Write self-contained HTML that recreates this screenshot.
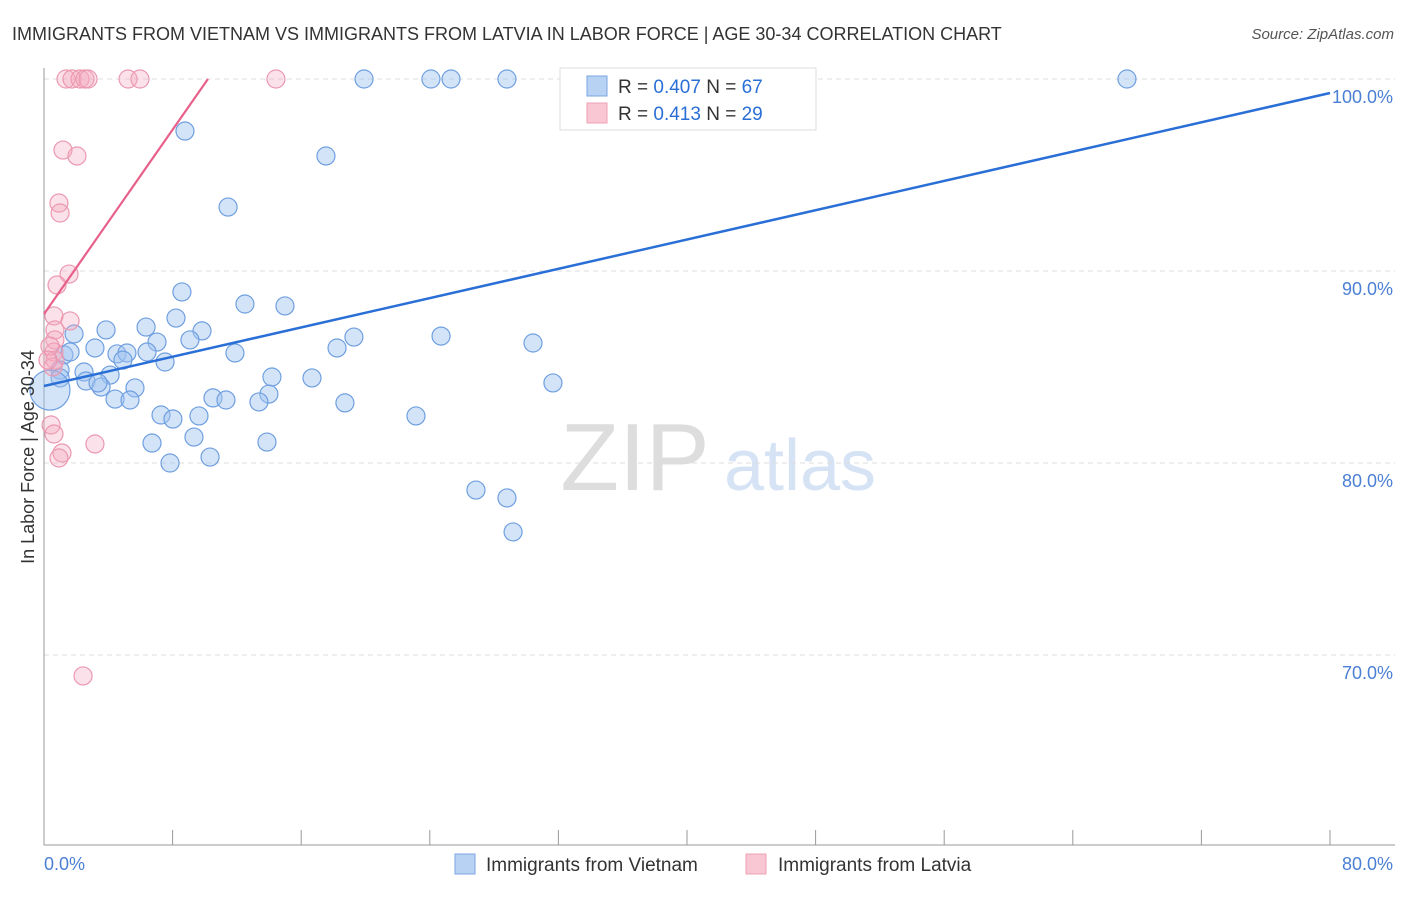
<!DOCTYPE html>
<html><head><meta charset="utf-8"><style>
body{margin:0;background:#fff;font-family:"Liberation Sans",sans-serif}
svg text{font-family:"Liberation Sans",sans-serif}
</style></head><body>
<svg id="chart" width="1406" height="892" xmlns="http://www.w3.org/2000/svg">
<text x="12" y="40" font-size="18" fill="#333">IMMIGRANTS FROM VIETNAM VS IMMIGRANTS FROM LATVIA IN LABOR FORCE | AGE 30-34 CORRELATION CHART</text>
<text x="1394" y="39" font-size="15" fill="#555" text-anchor="end" font-style="italic">Source: ZipAtlas.com</text>
<g>
<text x="635" y="490" font-size="96" fill="#ddd" font-family="Liberation Serif,serif" text-anchor="middle">ZIP</text>
<text x="800" y="490" font-size="72" fill="#d5e3f5" text-anchor="middle">atlas</text>
</g>
<g id="grid"></g><g id="axes"></g><g id="marks"></g>
<text transform="translate(34,457) rotate(-90)" font-size="18" fill="#333" text-anchor="middle">In Labor Force | Age 30-34</text>
<text x="44" y="870" font-size="18" fill="#4a7fd4">0.0%</text>
<text x="1393" y="870" font-size="18" fill="#4a7fd4" text-anchor="end">80.0%</text>
<g>
<rect x="560" y="68" width="256" height="62" fill="#fff" stroke="#ddd"/>
<rect x="587" y="76" width="20" height="20" fill="#b8d2f4" stroke="#7aa6e2"/>
<rect x="587" y="103" width="20" height="20" fill="#f9c6d4" stroke="#eea0b6"/>
<text x="618" y="93" font-size="19" fill="#333">R = <tspan fill="#2a6fd6">0.407</tspan>   N = <tspan fill="#2a6fd6">67</tspan></text>
<text x="618" y="120" font-size="19" fill="#333">R =  <tspan fill="#2a6fd6">0.413</tspan>   N = <tspan fill="#2a6fd6">29</tspan></text>
</g>
<g>
<rect x="455" y="854" width="20" height="20" fill="#b8d2f4" stroke="#7aa6e2"/>
<text x="486" y="871" font-size="19" fill="#333">Immigrants from Vietnam</text>
<rect x="746" y="854" width="20" height="20" fill="#f9c6d4" stroke="#eea0b6"/>
<text x="778" y="871" font-size="19" fill="#333">Immigrants from Latvia</text>
</g>
</svg>
<script>
const yTicks=[100,90,80,70];
const yTickLabels=["100.0%","90.0%","80.0%","70.0%"];
const xTicks=[0,8,16,24,32,40,48,56,64,72,80];
const vietX=[8.77,17.54,11.45,8.58,12.5,14.99,8.21,3.86,6.35,9.83,1.87,9.08,7.03,24.7,19.28,30.42,18.23,3.17,11.88,4.54,6.41,5.16,1.24,1.62,7.53,4.91,1.0,2.49,4.11,14.18,16.67,31.66,2.61,5.66,3.55,3.36,13.99,10.51,11.32,4.42,5.35,13.37,18.72,7.28,8.02,9.64,23.14,9.33,6.72,13.87,7.84,10.33,26.87,28.8,29.18,19.91,24.07,25.32,28.8,43.24,67.37,1.0,0.37];
const vietY=[97.29,95.99,93.33,88.91,88.28,88.18,87.55,86.93,87.08,86.88,86.72,86.41,86.3,86.61,86.56,86.25,85.99,85.99,85.73,85.68,85.78,85.73,85.63,85.78,85.26,85.36,84.84,84.74,84.58,84.48,84.43,84.17,84.27,83.91,83.96,84.17,83.59,83.39,83.28,83.33,83.28,83.18,83.13,82.5,82.29,82.45,82.45,81.35,81.04,81.09,80.0,80.31,78.59,78.18,76.41,100,100,100,100,100,100,84.43,83.8];
const latX=[1.37,1.74,2.24,2.55,2.74,5.23,5.97,14.43,1.18,2.05,0.93,1.0,1.56,0.81,1.62,0.62,0.68,0.68,0.62,0.68,0.56,0.44,0.62,1.12,0.93,3.17,2.43,0.37,0.25];
const latY=[100,100,100,100,100,100,100,100,96.3,95.99,93.54,93.02,89.84,89.27,87.4,87.66,86.93,86.41,85.78,85.36,85.0,81.98,81.51,80.52,80.26,80.99,68.91,86.09,85.36];
const vietTrend=[84.01,99.27];
const latTrend=[87.76,100];
const NS="http://www.w3.org/2000/svg";
const X=v=>44+v*16.075, Y=v=>79+(100-v)*19.2;
function mk(t,a,p){const e=document.createElementNS(NS,t);for(const k in a)e.setAttribute(k,a[k]);p.appendChild(e);return e;}
const grid=document.getElementById('grid'),axes=document.getElementById('axes'),marks=document.getElementById('marks');
yTicks.forEach((v,i)=>{
 const l=mk('line',{x1:44,x2:1395,y1:Y(v),y2:Y(v),stroke:'#ddd','stroke-dasharray':'5,4'},grid);
 
 
 const t=mk('text',{x:1393,y:Y(v)+24,'font-size':18,fill:'#4a7fd4','text-anchor':'end'},grid);
 t.textContent=yTickLabels[i];
 
 
});
const ya=mk('line',{x1:44,x2:44,y1:68,y2:845,stroke:'#999'},axes);


const xa=mk('line',{x1:44,x2:1395,y1:845,y2:845,stroke:'#999'},axes);


xTicks.forEach(v=>{
 const t=mk('line',{x1:X(v),x2:X(v),y1:830,y2:845,stroke:'#999'},axes);
 
 
});
vietX.forEach((x,i)=>{
 const big=i===vietX.length-1;
 const c=mk('circle',{cx:X(x),cy:Y(vietY[i]),r:big?20:9,fill:'rgba(160,196,240,0.45)',stroke:'#6f9fe0','stroke-width':1.2},marks);
 
 
});
latX.forEach((x,i)=>{
 const c=mk('circle',{cx:X(x),cy:Y(latY[i]),r:9,fill:'rgba(244,170,192,0.35)',stroke:'#eb98b0','stroke-width':1.2},marks);
 
 
});
const bl=mk('line',{x1:X(0),y1:Y(vietTrend[0]),x2:X(80),y2:Y(vietTrend[1]),stroke:'#2a6fd6','stroke-width':2.5},marks);


const xEnd=(100-latTrend[0])/((latTrend[1]-latTrend[0])/10.2)*1;
const pl=mk('line',{x1:X(0),y1:Y(latTrend[0]),x2:X(10.2),y2:Y(latTrend[1]),stroke:'#e8608a','stroke-width':2.2},marks);


</script>
</body></html>
